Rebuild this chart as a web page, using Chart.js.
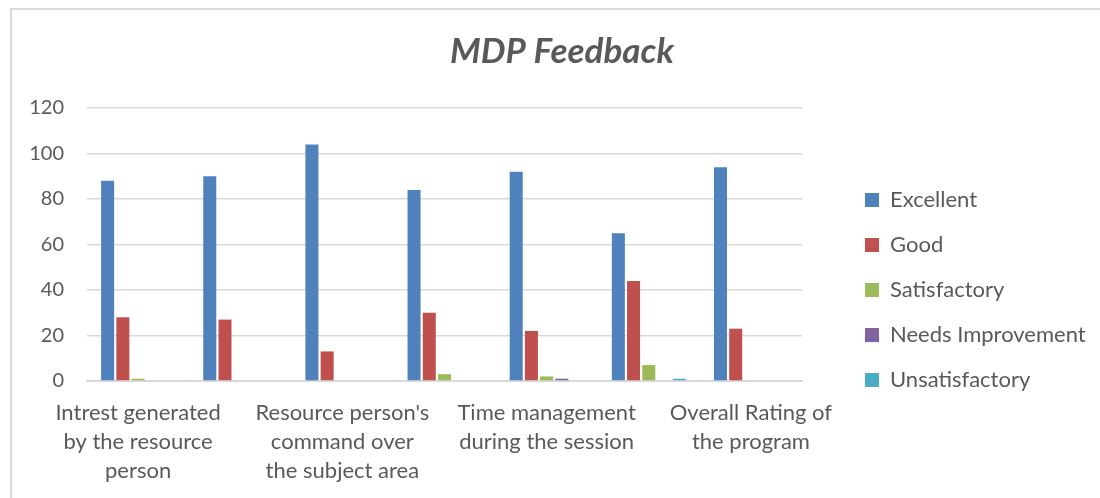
<!DOCTYPE html>
<html>
<head>
<meta charset="utf-8">
<script src="https://cdn.jsdelivr.net/npm/chart.js@4/dist/chart.umd.min.js"></script>
<style>
  html, body { margin: 0; padding: 0; background: #ffffff; }
  #wrap { width: 1100px; height: 498px; position: relative; }
</style>
</head>
<body>
<div id="wrap"><canvas id="c" width="1100" height="498"></canvas></div>
<script>
// ---- Data ----
const categories = [
  ["Intrest generated", "by the resource", "person"],
  "",
  ["Resource person's", "command over", "the subject area"],
  "",
  ["Time management", "during the session"],
  "",
  ["Overall Rating of", "the program"]
];
const seriesNames = ["Excellent", "Good", "Satisfactory", "Needs Improvement", "Unsatisfactory"];
const excellent        = [88, 90, 104, 84, 92, 65, 94];
const good             = [28, 27, 13, 30, 22, 44, 23];
const satisfactory     = [1, 0, 0, 3, 2, 7, 0];
const needsImprovement = [0, 0, 0, 0, 1, 0, 0];
const unsatisfactory   = [0, 0, 0, 0, 0, 1, 0];
const yTicks = [0, 20, 40, 60, 80, 100, 120];
const chartTitle = "MDP Feedback";

const colors = ["#4F81BD", "#C0504D", "#9BBB59", "#8064A2", "#4BACC6"];
const seriesValues = [excellent, good, satisfactory, needsImprovement, unsatisfactory];

const TEXT = "#595959";
const GRID = "#d9d9d9";

const frame = {
  id: 'frame',
  afterDraw(chart) {
    const ctx = chart.ctx;
    ctx.save();
    ctx.strokeStyle = GRID;
    ctx.lineWidth = 2;
    ctx.strokeRect(11, 9, 1300, 800);
    ctx.restore();
  }
};

const legendFix = {
  id: 'legendFix',
  afterInit(chart) {
    const lg = chart.legend;
    const orig = lg.fit.bind(lg);
    lg.fit = function () { orig(); this.width = 298; };
  },
  afterLayout(chart) {
    const lg = chart.legend;
    const w = lg.right - lg.left, h = lg.bottom - lg.top;
    lg.left = 842; lg.right = lg.left + w;
    lg.top = 166; lg.bottom = lg.top + h;
  }
};

new Chart(document.getElementById('c'), {
  type: 'bar',
  data: {
    labels: categories,
    datasets: seriesNames.map((name, i) => ({
      label: name,
      data: seriesValues[i],
      backgroundColor: colors[i],
      borderColor: colors[i],
      borderWidth: 0,
      categoryPercentage: 0.745,
      barPercentage: 0.855
    }))
  },
  options: {
    responsive: false,
    animation: false,
    devicePixelRatio: 1,
    layout: { padding: { left: 24, right: 0, top: 0, bottom: 0 } },
    plugins: {
      tooltip: { enabled: false },
      title: {
        display: true,
        text: chartTitle,
        color: TEXT,
        font: { family: 'Lato', size: 35, weight: 'bold', style: 'italic', lineHeight: 1.2 },
        padding: { top: 31, bottom: 35 }
      },
      legend: {
        position: 'right',
        align: 'start',
        labels: {
          color: TEXT,
          font: { family: 'Lato', size: 22 },
          boxWidth: 14,
          boxHeight: 14,
          padding: 23
        }
      }
    },
    scales: {
      x: {
        grid: { display: false, drawTicks: false },
        border: { display: true, color: GRID, width: 2 },
        ticks: {
          color: TEXT,
          autoSkip: false,
          maxRotation: 0,
          minRotation: 0,
          padding: 17,
          font: { family: 'Lato', size: 22, lineHeight: 1.32 }
        },
        afterFit(scale) { scale.height = 117; }
      },
      y: {
        min: 0,
        max: 120,
        afterBuildTicks(scale) { scale.ticks = yTicks.map(v => ({ value: v })); },
        grid: { color: GRID, lineWidth: 1.5, drawTicks: false },
        border: { display: false },
        ticks: {
          color: TEXT,
          padding: 23,
          font: { family: 'Lato', size: 20 }
        },
        afterFit(scale) { scale.width = 63; }
      }
    }
  },
  plugins: [legendFix, frame]
});
</script>
</body>
</html>
